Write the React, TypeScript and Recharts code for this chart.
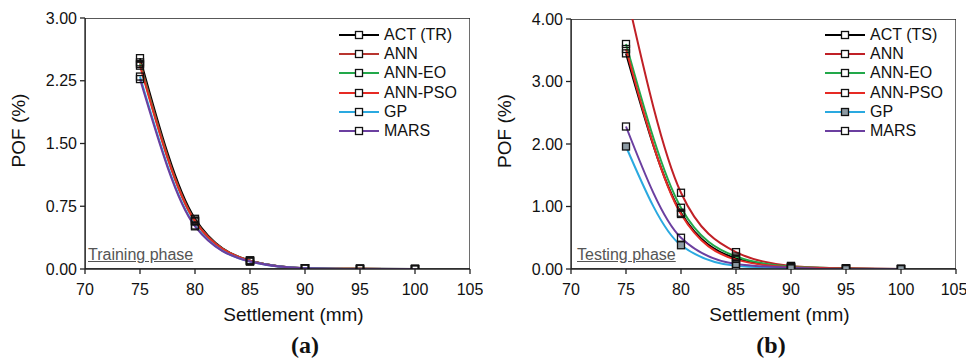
import React from "react";
import {
  LineChart,
  Line,
  XAxis,
  YAxis,
  Legend,
  ReferenceArea,
} from "recharts";

const settlement = [75, 80, 85, 90, 95, 100];
const xTicks = [70, 75, 80, 85, 90, 95, 100, 105];
const yTicksTR = [0, 0.75, 1.5, 2.25, 3];
const yTicksTS = [0, 1, 2, 3, 4];

// training phase (a)
const actTR = [2.52, 0.6, 0.1, 0.01, 0.003, 0];
const annTR = [2.47, 0.58, 0.1, 0.01, 0.002, 0];
const annEoTR = [2.45, 0.57, 0.1, 0.01, 0.002, 0];
const annPsoTR = [2.43, 0.57, 0.1, 0.01, 0.002, 0];
const gpTR = [2.3, 0.52, 0.09, 0.01, 0.001, 0];
const marsTR = [2.27, 0.51, 0.09, 0.01, 0.001, 0];

// testing phase (b)
const actTS = [3.45, 0.9, 0.17, 0.03, 0.01, 0];
const annTS = [4.45, 1.22, 0.27, 0.05, 0.01, 0];
const annEoTS = [3.6, 0.98, 0.2, 0.04, 0.01, 0];
const annPsoTS = [3.52, 0.88, 0.15, 0.03, 0.01, 0];
const gpTS = [1.96, 0.38, 0.05, 0.01, 0.0, 0];
const marsTS = [2.28, 0.5, 0.08, 0.02, 0.0, 0];

type Series = { key: string; name: string; color: string; markerFill: string };

const makeRows = (cols: Record<string, number[]>) =>
  settlement.map((s, i) => {
    const row: Record<string, number> = { s };
    Object.keys(cols).forEach((k) => (row[k] = cols[k][i]));
    return row;
  });

const dataTR = makeRows({
  act: actTR,
  ann: annTR,
  annEo: annEoTR,
  annPso: annPsoTR,
  gp: gpTR,
  mars: marsTR,
});
const dataTS = makeRows({
  act: actTS,
  ann: annTS,
  annEo: annEoTS,
  annPso: annPsoTS,
  gp: gpTS,
  mars: marsTS,
});

const seriesTR: Series[] = [
  { key: "act", name: "ACT (TR)", color: "#000000", markerFill: "none" },
  { key: "ann", name: "ANN", color: "#b8352f", markerFill: "none" },
  { key: "annEo", name: "ANN-EO", color: "#22a84a", markerFill: "none" },
  { key: "annPso", name: "ANN-PSO", color: "#e62a24", markerFill: "none" },
  { key: "gp", name: "GP", color: "#2aa9e0", markerFill: "none" },
  { key: "mars", name: "MARS", color: "#6b3fa0", markerFill: "none" },
];
const seriesTS: Series[] = [
  { key: "act", name: "ACT (TS)", color: "#000000", markerFill: "none" },
  { key: "ann", name: "ANN", color: "#c02026", markerFill: "none" },
  { key: "annEo", name: "ANN-EO", color: "#22a84a", markerFill: "none" },
  { key: "annPso", name: "ANN-PSO", color: "#e62a24", markerFill: "none" },
  { key: "gp", name: "GP", color: "#2aa9e0", markerFill: "#8c9aa3" },
  { key: "mars", name: "MARS", color: "#6b3fa0", markerFill: "none" },
];

const font = "'Liberation Sans', Arial, sans-serif";
const axisColor = "#222";

const squareDot = (fill: string) => (props: any) => {
  const { cx, cy, index } = props;
  if (cx == null || cy == null) return <g key={index} />;
  return (
    <rect
      key={index}
      x={cx - 3.5}
      y={cy - 3.5}
      width={7}
      height={7}
      fill={fill}
      stroke="#111"
      strokeWidth={1.3}
    />
  );
};

function LegendBox({ series }: { series: Series[] }) {
  return (
    <div style={{ fontFamily: font, fontSize: 16, color: "#111" }}>
      {series.map((s) => (
        <div
          key={s.key}
          style={{ display: "flex", alignItems: "center", height: 19.3, whiteSpace: "nowrap" }}
        >
          <svg width={42} height={12} style={{ marginRight: 3 }}>
            <line x1={0} y1={6} x2={40} y2={6} stroke={s.color} strokeWidth={2} />
            <rect
              x={16.5}
              y={2.5}
              width={7}
              height={7}
              fill={s.markerFill === "none" ? "#fff" : s.markerFill}
              stroke="#111"
              strokeWidth={1.3}
            />
          </svg>
          <span>{s.name}</span>
        </div>
      ))}
    </div>
  );
}

function Panel({
  data,
  series,
  yTicks,
  yMax,
  top,
  left,
  right,
  legendLeft,
  phase,
  phaseLeft,
  tag,
}: {
  data: Record<string, number>[];
  series: Series[];
  yTicks: number[];
  yMax: number;
  top: number;
  left: number;
  right: number;
  legendLeft: number;
  phase: string;
  phaseLeft: number;
  tag: string;
}) {
  return (
    <div style={{ position: "relative", width: 483, height: 362 }}>
      <LineChart
        width={483}
        height={362}
        data={data}
        margin={{ top, right, bottom: 0, left: 0 }}
      >
        <ReferenceArea
          x1={70}
          x2={105}
          y1={0}
          y2={yMax}
          fill="none"
          stroke={axisColor}
          strokeWidth={1.3}
          ifOverflow="hidden"
        />
        <XAxis
          dataKey="s"
          type="number"
          domain={[70, 105]}
          ticks={xTicks}
          stroke={axisColor}
          strokeWidth={1.3}
          tickSize={5}
          tickMargin={10}
          height={93}
          tick={{ fill: "#111", fontSize: 16, fontFamily: font }}
          label={{
            value: "Settlement (mm)",
            position: "insideBottom",
            offset: 41,
            dx: 16,
            fill: "#111",
            fontSize: 19,
            fontFamily: font,
          }}
        />
        <YAxis
          type="number"
          domain={[0, yMax]}
          ticks={yTicks}
          allowDataOverflow
          width={left}
          stroke={axisColor}
          strokeWidth={1.3}
          tickSize={5}
          tickMargin={3}
          tickFormatter={(v: number) => v.toFixed(2)}
          tick={{ fill: "#111", fontSize: 16, fontFamily: font }}
          label={{
            value: "POF (%)",
            angle: -90,
            position: "insideLeft",
            offset: left - 67,
            dy: -13,
            fill: "#111",
            fontSize: 19,
            fontFamily: font,
            textAnchor: "middle",
          }}
        />
        <Legend
          layout="horizontal"
          verticalAlign="middle"
          align="center"
          wrapperStyle={{ left: legendLeft, top: 25, width: 150 }}
          content={() => <LegendBox series={series} />}
        />
        {series.map((s) => (
          <Line
            key={s.key}
            dataKey={s.key}
            name={s.name}
            type="monotone"
            stroke={s.color}
            strokeWidth={2}
            dot={squareDot(s.markerFill)}
            activeDot={false}
            isAnimationActive={false}
          />
        ))}
      </LineChart>
      <div
        style={{
          position: "absolute",
          left: phaseLeft,
          top: 246,
          fontFamily: font,
          fontSize: 16,
          color: "#555",
          textDecoration: "underline",
          whiteSpace: "nowrap",
        }}
      >
        {phase}
      </div>
      <div
        style={{
          position: "absolute",
          left: tag === "(a)" ? 275 : 258,
          width: 60,
          top: 332,
          textAlign: "center",
          fontFamily: "'Liberation Serif', 'Times New Roman', serif",
          fontWeight: "bold",
          fontSize: 24,
          color: "#111",
        }}
      >
        {tag}
      </div>
    </div>
  );
}

export default function App() {
  return (
    <div
      style={{
        position: "absolute",
        left: 0,
        top: 0,
        width: 966,
        height: 362,
        display: "flex",
        background: "#fff",
      }}
    >
      <Panel
        data={dataTR}
        series={seriesTR}
        yTicks={yTicksTR}
        yMax={3}
        top={18}
        left={85}
        right={13}
        legendLeft={339}
        phase="Training phase"
        phaseLeft={88}
        tag="(a)"
      />
      <Panel
        data={dataTS}
        series={seriesTS}
        yTicks={yTicksTS}
        yMax={4}
        top={19}
        left={88}
        right={10}
        legendLeft={342}
        phase="Testing phase"
        phaseLeft={94}
        tag="(b)"
      />
    </div>
  );
}
